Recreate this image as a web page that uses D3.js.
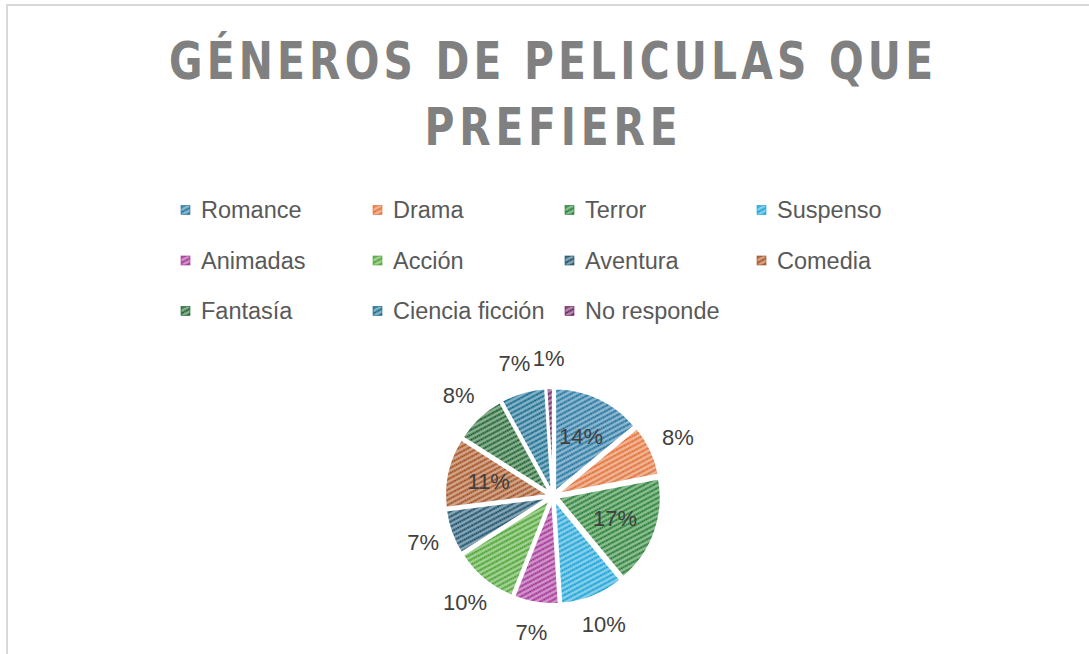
<!DOCTYPE html>
<html>
<head>
<meta charset="utf-8">
<script src="https://cdn.jsdelivr.net/npm/d3@7"></script>
<style>
  body { margin: 0; background: #fff; }
  svg { display: block; }
</style>
</head>
<body>
<svg class="genres"></svg>
<script>
// data
const genres = ['Romance', 'Drama', 'Terror', 'Suspenso', 'Animadas', 'Acción', 'Aventura', 'Comedia', 'Fantasía', 'Ciencia ficción', 'No responde']
const shares = [14, 8, 17, 10, 7, 10, 7, 11, 8, 7, 1]
const colors = ['#1A6E9C', '#E06A2C', '#1C7A2A', '#0F9ED5', '#A02B93', '#45A02A', '#114A66', '#A04A17', '#155E25', '#0B6589', '#661A5D']
const titleLines = ['GÉNEROS DE PELICULAS QUE', 'PREFIERE']
const titleWidths = [764, 253]

const width = 1089
const height = 654

const svg = d3.select('svg.genres').attr('width', width).attr('height', height)

// chart frame
svg.append('rect')
  .attr('x', 7).attr('y', 5)
  .attr('width', width + 20).attr('height', height + 20)
  .attr('fill', 'none')
  .attr('stroke', '#d9d9d9')
  .attr('stroke-width', 2)

// hatch patterns, one per genre
const defs = svg.append('defs')
genres.forEach((g, i) => {
  const p = defs.append('pattern')
    .attr('id', 'pat' + i)
    .attr('patternUnits', 'userSpaceOnUse')
    .attr('width', 4.5).attr('height', 4.5)
    .attr('patternTransform', 'rotate(-28)')
  p.append('rect').attr('width', 4.5).attr('height', 4.5)
    .attr('fill', d3.interpolateRgb(colors[i], '#fff')(0.5))
  p.append('line')
    .attr('x1', 0).attr('x2', 4.5).attr('y1', 2.25).attr('y2', 2.25)
    .attr('stroke', colors[i])
    .attr('stroke-width', 1.6)
    .attr('stroke-dasharray', '1.9 0.35')
})

// title, squeezed horizontally and spread out to match the condensed heading
const squeeze = 0.8
svg.append('g').selectAll('text')
  .data(titleLines)
  .enter()
  .append('text')
  .attr('transform', (d, i) => `translate(551, ${79 + i * 66}) scale(${squeeze}, 1)`)
  .attr('text-anchor', 'middle')
  .attr('textLength', (d, i) => titleWidths[i] / squeeze)
  .attr('lengthAdjust', 'spacing')
  .style('font-family', '"DejaVu Sans", "Liberation Sans", sans-serif')
  .style('font-weight', 'bold')
  .style('font-size', '51px')
  .style('fill', '#808080')
  .text(d => d)

// legend
const legend = svg.append('g')
const item = legend.selectAll('g')
  .data(genres)
  .enter()
  .append('g')
  .attr('transform', (d, i) => `translate(${181 + (i % 4) * 192}, ${210 + Math.floor(i / 4) * 50.5})`)

item.append('rect')
  .attr('x', 0).attr('y', -4.5)
  .attr('width', 9).attr('height', 9)
  .attr('fill', (d, i) => `url(#pat${i})`)
  .attr('stroke', (d, i) => colors[i])
  .attr('stroke-width', 0.6)

item.append('text')
  .attr('x', 20)
  .attr('y', 8)
  .style('font-family', '"Liberation Sans", Arial, sans-serif')
  .style('font-size', '23.5px')
  .style('fill', '#595959')
  .text(d => d)

// pie
const cx = 553
const cy = 496
const radius = 103
const explode = 5

const pie = d3.pie().sort(null).value(d => d)
const arcs = pie(shares)
const arc = d3.arc().innerRadius(0).outerRadius(radius)

const chart = svg.append('g').attr('transform', `translate(${cx}, ${cy})`)

chart.selectAll('path')
  .data(arcs)
  .enter()
  .append('path')
  .attr('transform', d => {
    const a = (d.startAngle + d.endAngle) / 2
    return `translate(${Math.sin(a) * explode}, ${-Math.cos(a) * explode})`
  })
  .attr('d', arc)
  .attr('fill', (d, i) => `url(#pat${i})`)
  .attr('stroke', '#fff')
  .attr('stroke-width', 2)

// percentage labels: large slices inside, small ones outside
const inside = d3.arc().innerRadius(66).outerRadius(66)
const outside = d3.arc().innerRadius(138).outerRadius(138)

chart.selectAll('text.pct')
  .data(arcs)
  .enter()
  .append('text')
  .attr('class', 'pct')
  .attr('transform', d => `translate(${(d.data >= 11 ? inside : outside).centroid(d)})`)
  .attr('dy', '0.35em')
  .attr('text-anchor', 'middle')
  .style('font-family', '"Liberation Sans", Arial, sans-serif')
  .style('font-size', '22px')
  .style('fill', '#404040')
  .text(d => d.data + '%')
</script>
</body>
</html>
